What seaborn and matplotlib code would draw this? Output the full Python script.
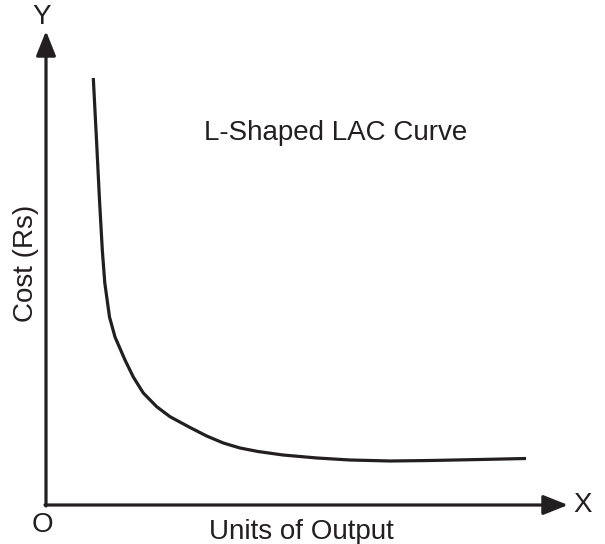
import matplotlib
matplotlib.use('Agg')
import matplotlib.pyplot as plt
import seaborn as sns
import pandas as pd

# LAC curve (origin at axis corner)
output_units = [47.3, 50.5, 53.5, 56.3, 58.8, 63.5, 69, 79, 87.3, 97.3, 110.7, 124, 144,
                160.7, 177.3, 194, 212, 237, 271, 304, 344, 384, 434, 480]
cost = [427, 365, 305, 255, 222, 188, 168, 145, 128, 112, 98.3, 88.3, 77.5,
        69, 62, 57, 53.5, 50, 47, 45, 44, 44.5, 45.5, 46.5]

sns.set_style('white')
plt.rcParams['font.family'] = ['Liberation Sans', 'DejaVu Sans']

ink = '#231f20'
fig = plt.figure(figsize=(6.05, 5.44), dpi=100)
ax = fig.add_axes([46 / 605, 39 / 544, 521 / 605, 473 / 544])

df = pd.DataFrame({'output': output_units, 'cost': cost})
sns.lineplot(data=df, x='output', y='cost', ax=ax, color=ink, lw=2.3, sort=False,
             solid_joinstyle='round', solid_capstyle='butt')

ax.set_xlim(0, 521)
ax.set_ylim(0, 473)
for s in ax.spines.values():
    s.set_visible(False)
ax.set_xticks([])
ax.set_yticks([])
ax.set_xlabel('')
ax.set_ylabel('')

arrow = dict(arrowstyle='-|>,head_length=0.75,head_width=0.3', lw=2.3,
             color=ink, mutation_scale=20, shrinkA=0, shrinkB=0)
ax.annotate('', xy=(522, 0), xytext=(-1, 0), arrowprops=arrow, annotation_clip=False)
ax.annotate('', xy=(0, 474), xytext=(0, -1), arrowprops=arrow, annotation_clip=False)

fs = 20
ax.text(-4, 488, 'Y', fontsize=fs, ha='center', va='center', color=ink, clip_on=False)
ax.text(537, 0, 'X', fontsize=fs, ha='center', va='center', color=ink, clip_on=False)
ax.text(-4, -20, 'O', fontsize=fs, ha='center', va='center', color=ink, clip_on=False)
ax.text(255, -27, 'Units of Output', fontsize=fs, ha='center', va='center', color=ink, clip_on=False)
ax.text(-20, 242, 'Cost (Rs)', fontsize=fs, ha='center', va='center', rotation=90, color=ink, clip_on=False)
ax.text(290, 372, 'L-Shaped LAC Curve', fontsize=fs, ha='center', va='center', color=ink)

fig.savefig('out.png', dpi=100, facecolor='white')
